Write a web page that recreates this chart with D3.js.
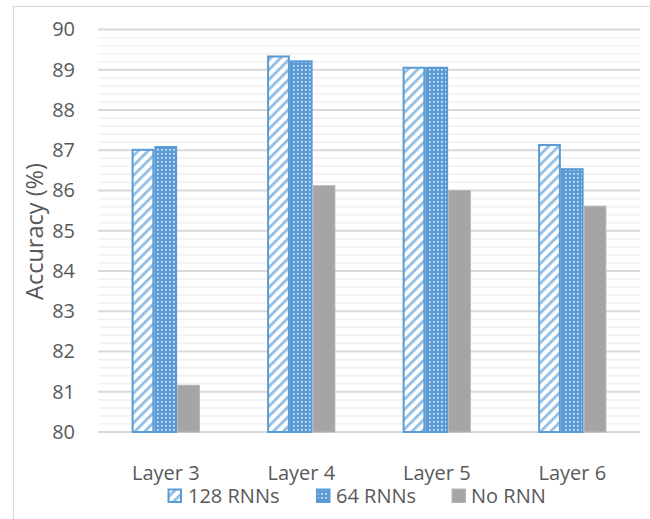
<!DOCTYPE html>
<html><head><meta charset="utf-8">
<script src="https://cdn.jsdelivr.net/npm/d3@7"></script>
<style>body{margin:0;background:#fff}svg{display:block;font-family:"Open Sans",sans-serif}</style>
</head><body><svg id="c" width="650" height="519"></svg>
<script>
const categories = ["Layer 3","Layer 4","Layer 5","Layer 6"];
const seriesNames = ["128 RNNs","64 RNNs","No RNN"];
const rnn128 = [87.01, 89.33, 89.05, 87.13];
const rnn64  = [87.08, 89.21, 89.05, 86.53];
const noRnn  = [81.16, 86.12, 86.00, 85.61];
const yTicks = [80,81,82,83,84,85,86,87,88,89,90];

const svg = d3.select("#c");
const blue = "#5B9BD5", gray = "#A5A5A5", txt = "#595959";
const defs = svg.append("defs");
// diagonal stripes
const p1 = defs.append("pattern").attr("id","diag").attr("patternUnits","userSpaceOnUse")
  .attr("width",7).attr("height",7).attr("patternTransform","rotate(45)");
p1.append("rect").attr("width",7).attr("height",7).attr("fill","#fff");
p1.append("rect").attr("width",2.8).attr("height",7).attr("fill","#92bde4");
// dotted grid
const p2 = defs.append("pattern").attr("id","dots").attr("patternUnits","userSpaceOnUse")
  .attr("width",4).attr("height",4);
p2.append("rect").attr("width",4).attr("height",4).attr("fill",blue);
p2.append("rect").attr("x",1).attr("y",1).attr("width",1.7).attr("height",1.7).attr("fill","#dbe9f6");

// outer border
svg.append("rect").attr("x",13.5).attr("y",6.5).attr("width",700).attr("height",600)
  .attr("fill","none").attr("stroke","#d9d9d9").attr("stroke-width",1.2);

const left = 98, right = 640;
const y = d3.scaleLinear().domain([80,90]).range([432,29.5]);
const x0 = d3.scaleBand().domain(categories).range([left,right]).padding(0);
const groupW = x0.bandwidth()*0.504;
const x1 = d3.scaleBand().domain(seriesNames).range([0,groupW]).padding(0);

// minor gridlines
const minor = d3.range(80,90.001,0.2).filter(v => Math.abs(v-Math.round(v))>0.01);
svg.append("g").selectAll("line").data(minor).join("line")
  .attr("x1",left).attr("x2",right).attr("y1",d=>y(d)).attr("y2",d=>y(d))
  .attr("stroke","#f2f2f2").attr("stroke-width",1.8);
// major gridlines
svg.append("g").selectAll("line").data(yTicks).join("line")
  .attr("x1",left).attr("x2",right).attr("y1",d=>y(d)).attr("y2",d=>y(d))
  .attr("stroke","#d9d9d9").attr("stroke-width",d=>d===80?2.2:1.8);

// y tick labels via axis
const yAxis = d3.axisLeft(y).tickValues(yTicks).tickSize(0).tickPadding(0).tickFormat(d3.format("d"));
const ya = svg.append("g").attr("transform","translate(75,0)").call(yAxis);
ya.select(".domain").remove();
ya.selectAll("text").attr("font-size",20).attr("fill",txt).attr("font-family","Open Sans");

// title
svg.append("text").attr("transform","translate(42.5,231.5) rotate(-90)")
  .attr("text-anchor","middle").attr("font-size",23.5).attr("fill",txt).text("Accuracy (%)");

// bars
const series = [
  {name:seriesNames[0], values:rnn128, fill:"url(#diag)", stroke:blue, sw:2},
  {name:seriesNames[1], values:rnn64, fill:"url(#dots)", stroke:blue, sw:2},
  {name:seriesNames[2], values:noRnn, fill:gray, stroke:"#b5b5b5", sw:1}
];
const off = (x0.bandwidth()-groupW)/2;
series.forEach(s => {
  svg.append("g").selectAll("rect").data(categories).join("rect")
    .attr("x",(c)=>x0(c)+off+x1(s.name)+s.sw/2)
    .attr("width",x1.bandwidth()-s.sw)
    .attr("y",(c,i)=>y(s.values[i]))
    .attr("height",(c,i)=>y(80)-y(s.values[i]))
    .attr("fill",s.fill).attr("stroke",s.stroke).attr("stroke-width",s.sw);
});

// x labels
const xAxis = d3.axisBottom(x0).tickSize(0).tickPadding(0);
const xa = svg.append("g").attr("transform","translate(0,466)").call(xAxis);
xa.select(".domain").remove();
xa.selectAll("text").attr("font-size",20).attr("fill",txt).attr("font-family","Open Sans").attr("dy","0.72em");

// legend
const legX = [167.5, 316, 451.5], legTx = [188, 336, 471];
series.forEach((s,i) => {
  svg.append("rect").attr("x",legX[i]+ (s.sw/2)).attr("y",488.5+(s.sw/2))
    .attr("width",14.5-s.sw).attr("height",14.5-s.sw)
    .attr("fill",s.fill).attr("stroke",s.stroke).attr("stroke-width",s.sw);
  svg.append("text").attr("x",legTx[i]).attr("y",502.5).attr("font-size",20).attr("fill",txt).text(s.name);
});
</script></body></html>
